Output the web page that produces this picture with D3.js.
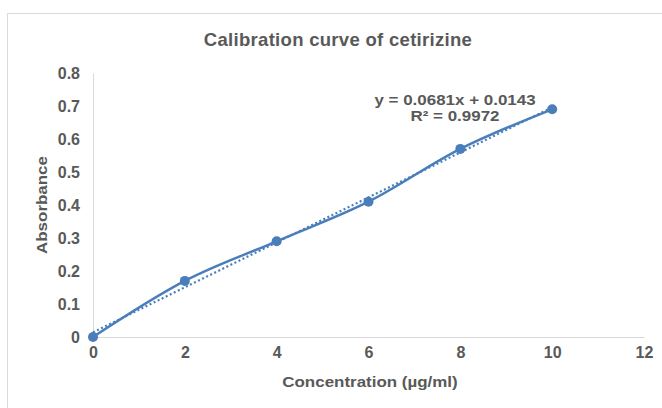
<!DOCTYPE html>
<html>
<head>
<meta charset="utf-8">
<script src="https://cdn.jsdelivr.net/npm/d3@7"></script>
<style>
  body { margin: 0; background: #fff; }
  text { font-family: "Liberation Sans", Arial, sans-serif; fill: #595959; font-weight: bold; }
</style>
</head>
<body>
<div id="chart"></div>
<script>
// data
var concentration = [0, 2, 4, 6, 8, 10];
var absorbance = [0, 0.17, 0.29, 0.41, 0.57, 0.69];
var xTicks = [0, 2, 4, 6, 8, 10, 12];
var yTicks = [0, 0.1, 0.2, 0.3, 0.4, 0.5, 0.6, 0.7, 0.8];

var W = 662, H = 408;
var margin = { top: 73, right: 18, bottom: 71, left: 93 },
    w = W - margin.left - margin.right,
    h = H - margin.top - margin.bottom;

var blue = '#4a7ebb';
var stretch = 1.13; // the reference text is a bit wider than it is tall

var svg = d3.select('#chart')
    .append('svg')
    .attr('width', W)
    .attr('height', H);

// chart frame
svg.append('rect')
    .attr('x', 7.5).attr('y', 13.5)
    .attr('width', W).attr('height', H)
    .attr('fill', 'none')
    .attr('stroke', '#d9d9d9');

// centred text, stretched horizontally around its anchor
function label(x, y, txt, size, rot) {
    return svg.append('text')
        .attr('transform', `translate(${x},${y}) rotate(${rot || 0}) scale(${stretch},1)`)
        .attr('text-anchor', 'middle')
        .style('font-size', size + 'px')
        .text(txt);
}

svg.append('text')
    .attr('x', 338).attr('y', 46)
    .attr('text-anchor', 'middle')
    .style('font-size', '18.5px')
    .style('letter-spacing', '0.3px')
    .text('Calibration curve of cetirizine');

var g = svg.append('g')
    .attr('transform', `translate(${margin.left},${margin.top})`);

var xScale = d3.scaleLinear().domain([0, 12]).range([0, w]);
var yScale = d3.scaleLinear().domain([0, 0.8]).range([h, 0]);

// axes
var xAxis = d3.axisBottom(xScale).tickValues(xTicks).tickSize(0).tickPadding(10)
    .tickFormat(d3.format('d'));
var yAxis = d3.axisLeft(yScale).tickValues(yTicks).tickSize(0).tickPadding(13)
    .tickFormat(function (d) { return d === 0 ? '0' : d3.format('.1f')(d); });

var gx = g.append('g').attr('transform', `translate(0,${h})`).call(xAxis);
var gy = g.append('g').call(yAxis);
[gx, gy].forEach(function (a) {
    a.select('.domain').attr('stroke', '#d9d9d9').attr('stroke-width', 1);
    a.selectAll('text')
        .style('font-size', '16px')
        .style('font-weight', 'bold')
        .attr('fill', '#595959')
        .style('font-family', '"Liberation Sans", Arial, sans-serif');
});

// axis titles
label(370, 387, 'Concentration (µg/ml)', 15);
label(47, 205, 'Absorbance', 15, -90);

var data = concentration.map(function (c, i) { return { x: c, y: absorbance[i] }; });

// linear trendline (least squares)
var mx = d3.mean(data, d => d.x), my = d3.mean(data, d => d.y);
var slope = d3.sum(data, d => (d.x - mx) * (d.y - my)) / d3.sum(data, d => (d.x - mx) * (d.x - mx));
var intercept = my - slope * mx;
var ssTot = d3.sum(data, d => (d.y - my) * (d.y - my));
var ssRes = d3.sum(data, d => Math.pow(d.y - (slope * d.x + intercept), 2));
var r2 = 1 - ssRes / ssTot;

var xExt = d3.extent(concentration);
g.append('line')
    .attr('x1', xScale(xExt[0])).attr('y1', yScale(slope * xExt[0] + intercept))
    .attr('x2', xScale(xExt[1])).attr('y2', yScale(slope * xExt[1] + intercept))
    .attr('stroke', blue)
    .attr('stroke-width', 2.2)
    .attr('stroke-dasharray', '2,2.5');

// smoothed series line
var line = d3.line()
    .x(d => xScale(d.x))
    .y(d => yScale(d.y))
    .curve(d3.curveCatmullRom.alpha(0));

g.append('path')
    .datum(data)
    .attr('fill', 'none')
    .attr('stroke', blue)
    .attr('stroke-width', 2.5)
    .attr('d', line);

g.selectAll('circle')
    .data(data)
    .enter()
    .append('circle')
    .attr('cx', d => xScale(d.x))
    .attr('cy', d => yScale(d.y))
    .attr('r', 5)
    .attr('fill', blue);

// equation label
label(455, 105, 'y = ' + slope.toFixed(4) + 'x + ' + intercept.toFixed(4), 15);
label(455, 121, 'R² = ' + r2.toFixed(4), 15);
</script>
</body>
</html>
